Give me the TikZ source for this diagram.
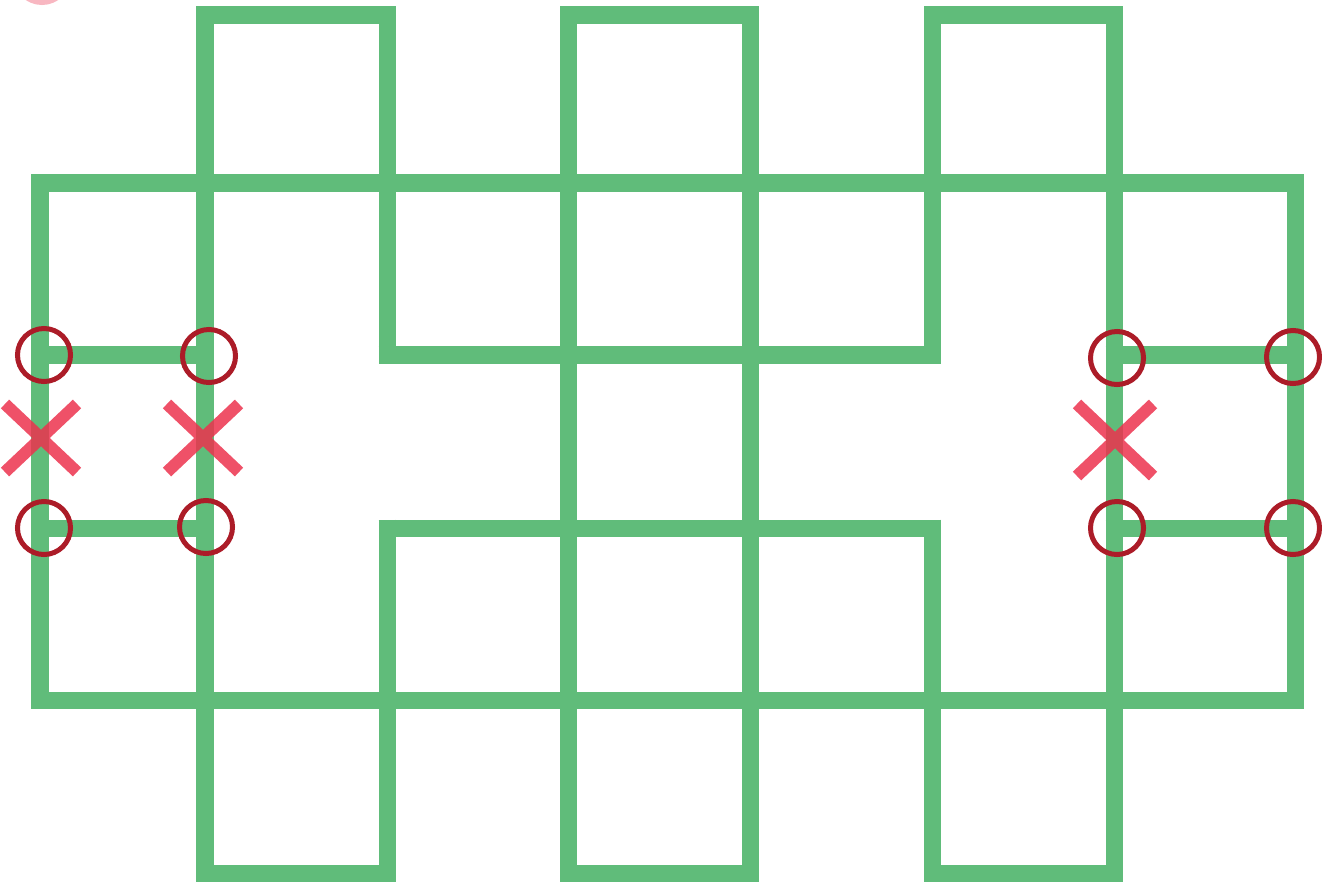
\documentclass[tikz,border=0pt]{standalone}
\usetikzlibrary{shapes.misc}
\definecolor{stickgreen}{RGB}{96,188,122}
\definecolor{ringred}{RGB}{172,28,40}
\definecolor{crossred}{RGB}{236,50,78}
\begin{document}
\begin{tikzpicture}[x=0.01cm, y=-0.01cm,
    stick/.style={line width=0.17cm, stickgreen, shorten <=-0.085cm, shorten >=-0.085cm},
    ring/.style={circle, draw=ringred, line width=0.05cm, minimum size=0.53cm, inner sep=0pt},
    strike/.style={cross out, draw=crossred, line width=0.12cm, minimum width=0.6cm, minimum height=0.56cm, inner sep=0pt, opacity=.85}]
\useasboundingbox (0,0) rectangle (1322,882);

% top and bottom boxes
\foreach \x in {205,568,932}
{
    \draw[stick] (\x,15) rectangle (\x+182,183);
    \draw[stick] (\x,700) rectangle (\x+182,873);
}

\draw[stick] (40,183) -- (1295,183);
\draw[stick] (40,700) -- (1295,700);

\foreach \x in {40,205,568,750,1114,1295}
    \draw[stick] (\x,183) -- (\x,700);

\foreach \x in {387,932}
{
    \draw[stick] (\x,183) -- (\x,355);
    \draw[stick] (\x,528) -- (\x,700);
}

\foreach \y in {355,528}
{
    \draw[stick] (40,\y) -- (205,\y);
    \draw[stick] (387,\y) -- (932,\y);
    \draw[stick] (1114,\y) -- (1295,\y);
}

% marks
\node[ring] (R1) at (44,355) {};
\node[ring] (R2) at (209,356) {};
\node[ring] (R3) at (44,528) {};
\node[ring] (R4) at (206,527) {};
\node[ring] (R5) at (1117,358) {};
\node[ring] (R6) at (1293,357) {};
\node[ring] (R7) at (1117,528) {};
\node[ring] (R8) at (1293,528) {};

\node[strike] (X1) at (41,438) {};
\node[strike] (X2) at (203,438) {};
\node[strike, minimum width=0.64cm, minimum height=0.6cm] (X3) at (1115,440) {};

\node[ring, draw=crossred, opacity=.35] (R0) at (42,-24) {};

\end{tikzpicture}
\end{document}
